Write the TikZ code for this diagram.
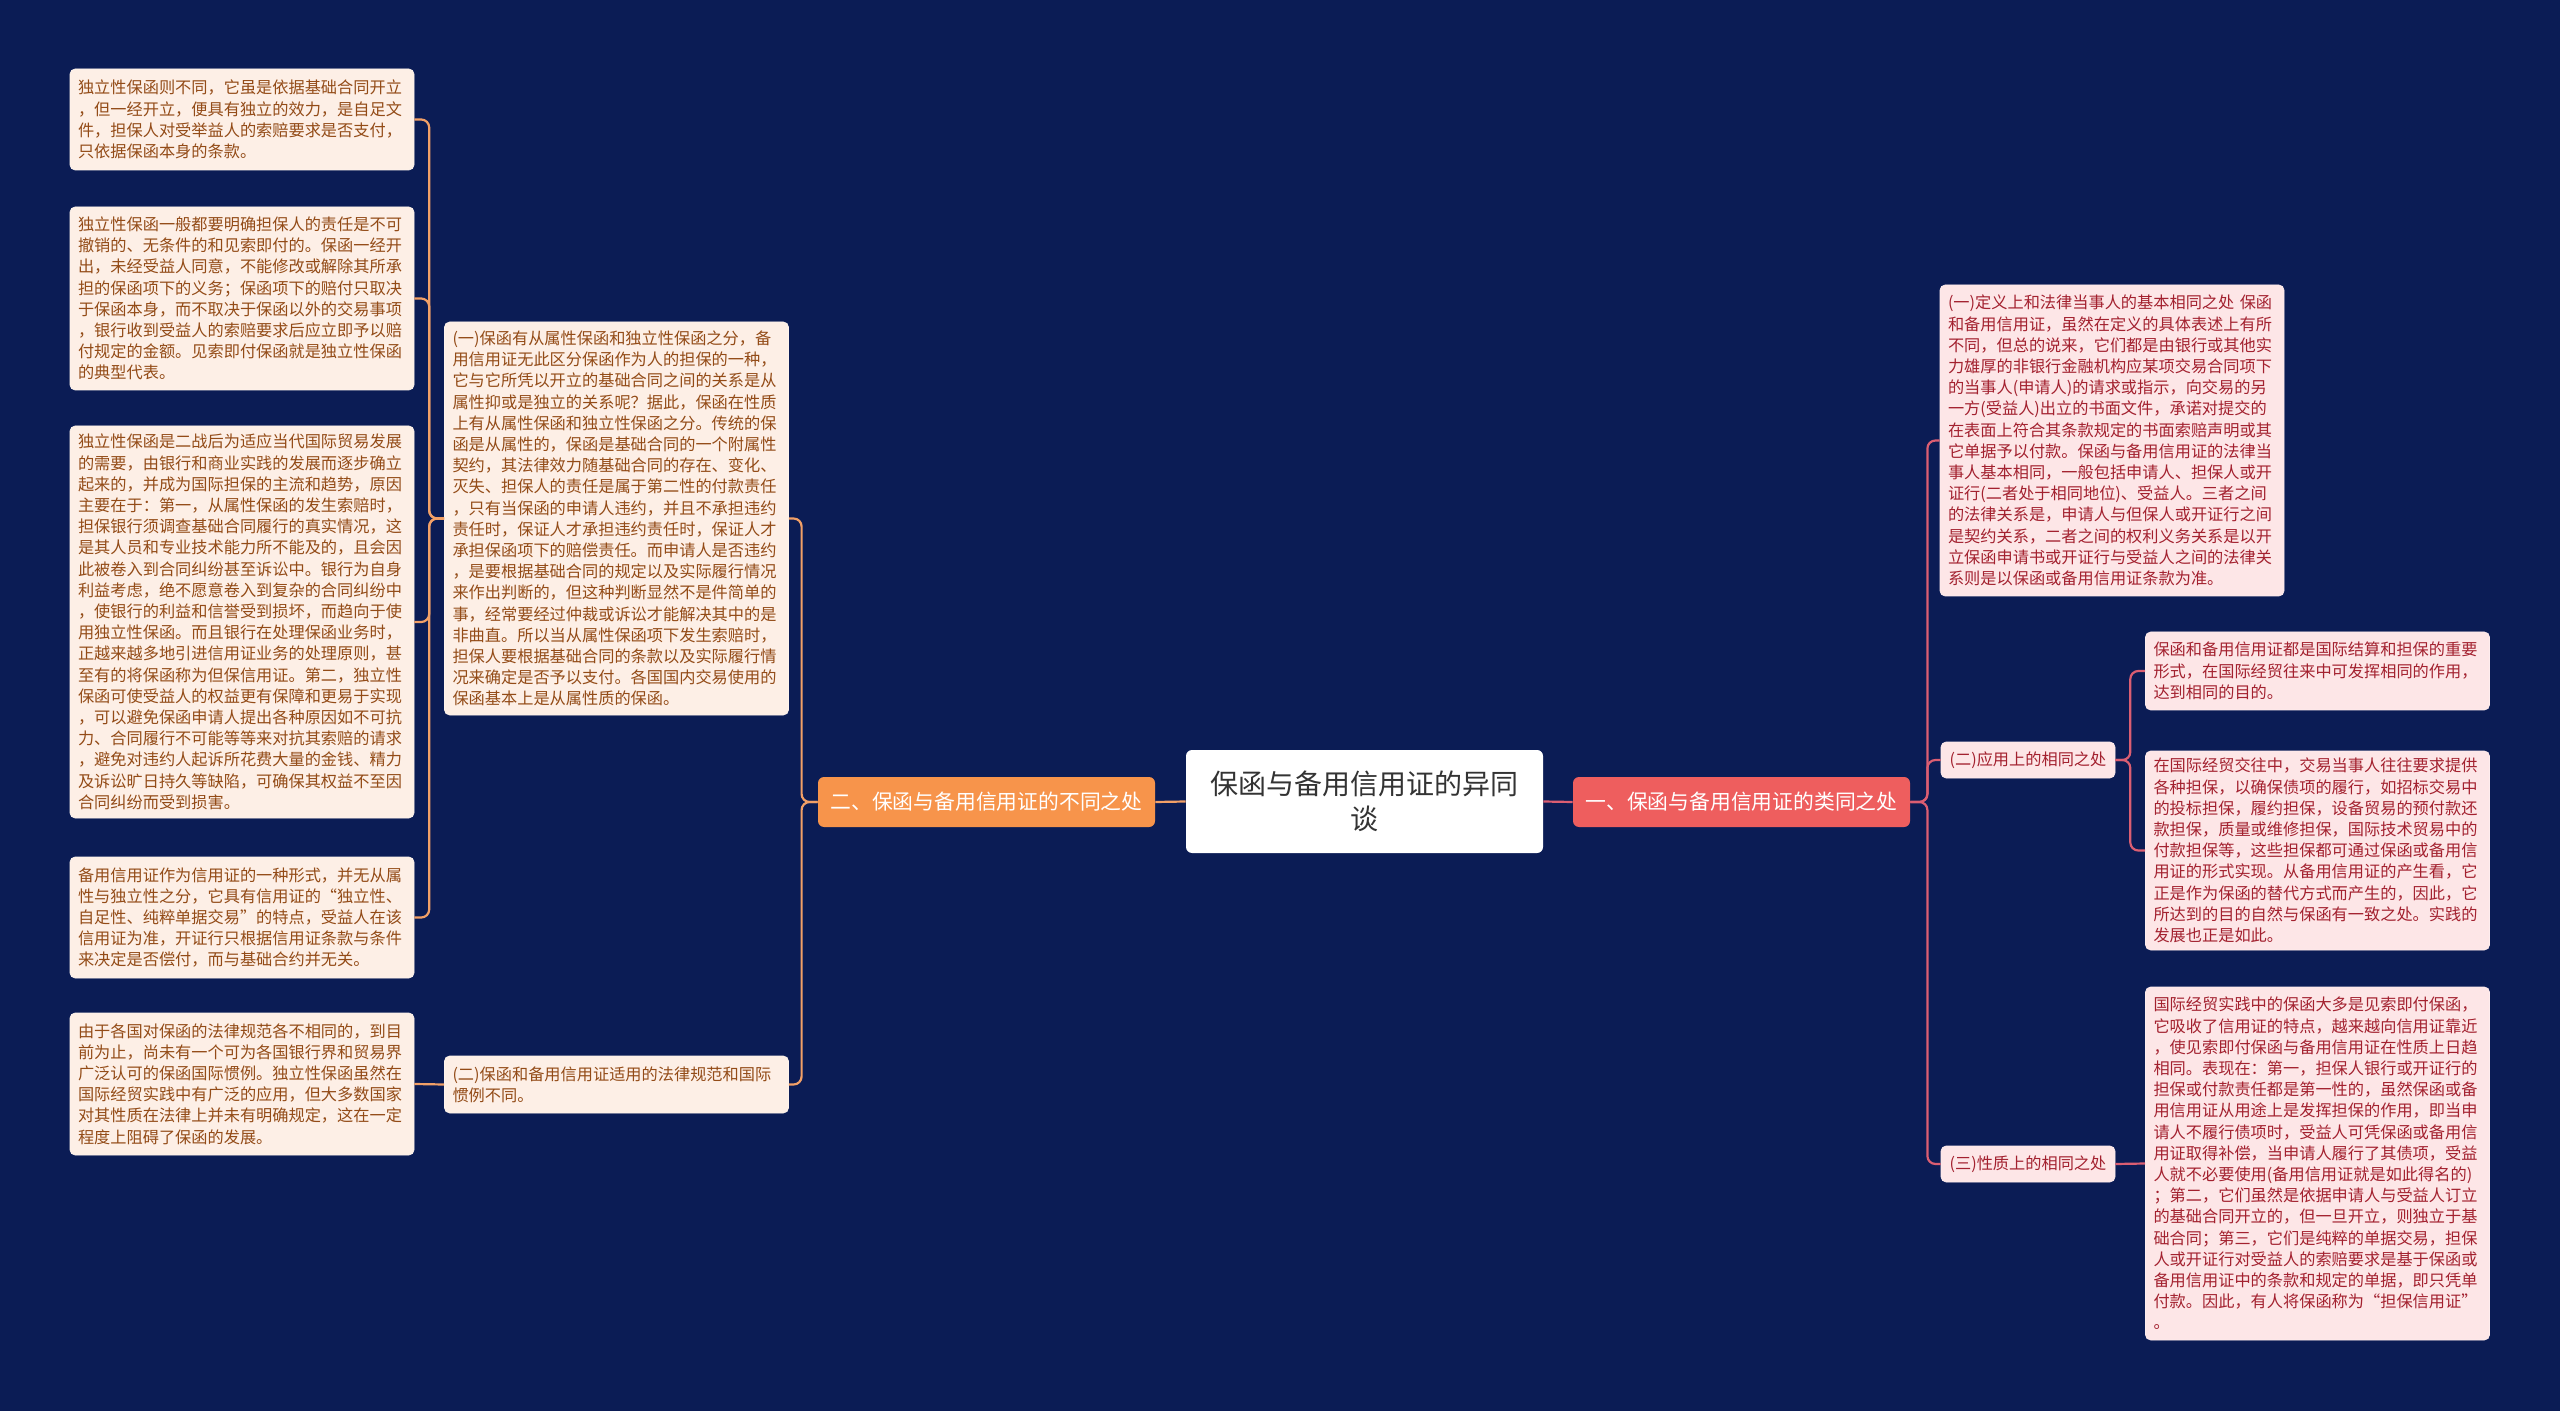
\documentclass[tikz,border=0pt]{standalone}
\usepackage{fontspec}
\newfontfamily\cjk{Noto Sans CJK SC}
\definecolor{bg}{HTML}{0B1C55}
\definecolor{lfill}{HTML}{FDEFE6}
\definecolor{ltext}{HTML}{934B17}
\definecolor{rfill}{HTML}{FDE6E7}
\definecolor{rtext}{HTML}{A3212F}
\definecolor{lline}{HTML}{F2A067}
\definecolor{rline}{HTML}{DB5E72}
\definecolor{lbfill}{HTML}{F7944B}
\definecolor{rbfill}{HTML}{EE5E5E}
\begin{document}
\begin{tikzpicture}[x=0.5pt,y=-0.5pt,
  txt/.style={inner sep=0pt, rounded corners=2.5pt, align=left,
    font={\cjk\fontsize{8.1pt}{10.6pt}\selectfont}},
  lbox/.style={txt, fill=lfill, text=ltext, draw=lfill!70!white, line width=0.3pt},
  rbox/.style={txt, fill=rfill, text=rtext, draw=rfill!70!white, line width=0.3pt},
  wide/.style={minimum width=172pt, text width=164pt},
  branch/.style={inner sep=0pt, rounded corners=3pt, text=white, minimum width=168.5pt, minimum height=25pt,
    font={\cjk\fontsize{10.4pt}{12pt}\selectfont}},
  lconn/.style={draw=lline, line width=1.1pt, rounded corners=4pt},
  rconn/.style={draw=rline, line width=1.1pt, rounded corners=4pt}]
\fill[bg] (0,0) rectangle (2560,1411);
\useasboundingbox (0,0) rectangle (2560,1411);

% centre and branches
\node[inner sep=0pt, rounded corners=3pt, fill=white, text=black!80, minimum width=178.5pt, minimum height=51.5pt,
  align=center, font={\cjk\fontsize{14pt}{17.5pt}\selectfont}] (C) at (1364.5,801.5) {保函与备用信用证的异同\\谈};
\node[branch, fill=lbfill] (LB) at (986.5,802) {二、保函与备用信用证的不同之处};
\node[branch, fill=rbfill] (RB) at (1741.5,802) {一、保函与备用信用证的类同之处};

% left side
\node[lbox, wide, minimum height=196.5pt] (M1) at (616.5,518.5) {(一)保函有从属性保函和独立性保函之分，备\\
用信用证无此区分保函作为人的担保的一种，\\
它与它所凭以开立的基础合同之间的关系是从\\
属性抑或是独立的关系呢？据此，保函在性质\\
上有从属性保函和独立性保函之分。传统的保\\
函是从属性的，保函是基础合同的一个附属性\\
契约，其法律效力随基础合同的存在、变化、\\
灭失、担保人的责任是属于第二性的付款责任\\
，只有当保函的申请人违约，并且不承担违约\\
责任时，保证人才承担违约责任时，保证人才\\
承担保函项下的赔偿责任。而申请人是否违约\\
，是要根据基础合同的规定以及实际履行情况\\
来作出判断的，但这种判断显然不是件简单的\\
事，经常要经过仲裁或诉讼才能解决其中的是\\
非曲直。所以当从属性保函项下发生索赔时，\\
担保人要根据基础合同的条款以及实际履行情\\
况来确定是否予以支付。各国国内交易使用的\\
保函基本上是从属性质的保函。};
\node[lbox, wide, minimum height=28.5pt] (M2) at (616.5,1084.5) {(二)保函和备用信用证适用的法律规范和国际\\
惯例不同。};

\node[lbox, wide, minimum height=50.5pt] (L1) at (242,119.5) {独立性保函则不同，它虽是依据基础合同开立\\
，但一经开立，便具有独立的效力，是自足文\\
件，担保人对受举益人的索赔要求是否支付，\\
只依据保函本身的条款。};
\node[lbox, wide, minimum height=91.5pt] (L2) at (242,298.5) {独立性保函一般都要明确担保人的责任是不可\\
撤销的、无条件的和见索即付的。保函一经开\\
出，未经受益人同意，不能修改或解除其所承\\
担的保函项下的义务；保函项下的赔付只取决\\
于保函本身，而不取决于保函以外的交易事项\\
，银行收到受益人的索赔要求后应立即予以赔\\
付规定的金额。见索即付保函就是独立性保函\\
的典型代表。};
\node[lbox, wide, minimum height=196pt] (L3) at (242,622) {独立性保函是二战后为适应当代国际贸易发展\\
的需要，由银行和商业实践的发展而逐步确立\\
起来的，并成为国际担保的主流和趋势，原因\\
主要在于：第一，从属性保函的发生索赔时，\\
担保银行须调查基础合同履行的真实情况，这\\
是其人员和专业技术能力所不能及的，且会因\\
此被卷入到合同纠纷甚至诉讼中。银行为自身\\
利益考虑，绝不愿意卷入到复杂的合同纠纷中\\
，使银行的利益和信誉受到损坏，而趋向于使\\
用独立性保函。而且银行在处理保函业务时，\\
正越来越多地引进信用证业务的处理原则，甚\\
至有的将保函称为但保信用证。第二，独立性\\
保函可使受益人的权益更有保障和更易于实现\\
，可以避免保函申请人提出各种原因如不可抗\\
力、合同履行不可能等等来对抗其索赔的请求\\
，避免对违约人起诉所花费大量的金钱、精力\\
及诉讼旷日持久等缺陷，可确保其权益不至因\\
合同纠纷而受到损害。};
\node[lbox, wide, minimum height=60.5pt] (L4) at (242,917.5) {备用信用证作为信用证的一种形式，并无从属\\
性与独立性之分，它具有信用证的“独立性、\\
自足性、纯粹单据交易”的特点，受益人在该\\
信用证为准，开证行只根据信用证条款与条件\\
来决定是否偿付，而与基础合约并无关。};
\node[lbox, wide, minimum height=71pt] (L5) at (242,1084) {由于各国对保函的法律规范各不相同的，到目\\
前为止，尚未有一个可为各国银行界和贸易界\\
广泛认可的保函国际惯例。独立性保函虽然在\\
国际经贸实践中有广泛的应用，但大多数国家\\
对其性质在法律上并未有明确规定，这在一定\\
程度上阻碍了保函的发展。};

% right side
\node[rbox, wide, minimum height=155.5pt] (RM1) at (2112,440.5) {(一)定义上和法律当事人的基本相同之处 保函\\
和备用信用证，虽然在定义的具体表述上有所\\
不同，但总的说来，它们都是由银行或其他实\\
力雄厚的非银行金融机构应某项交易合同项下\\
的当事人(申请人)的请求或指示，向交易的另\\
一方(受益人)出立的书面文件，承诺对提交的\\
在表面上符合其条款规定的书面索赔声明或其\\
它单据予以付款。保函与备用信用证的法律当\\
事人基本相同，一般包括申请人、担保人或开\\
证行(二者处于相同地位)、受益人。三者之间\\
的法律关系是，申请人与但保人或开证行之间\\
是契约关系，二者之间的权利义务关系是以开\\
立保函申请书或开证行与受益人之间的法律关\\
系则是以保函或备用信用证条款为准。};
\node[rbox, minimum width=87pt, minimum height=18pt] (RM2) at (2028,760) {(二)应用上的相同之处};
\node[rbox, minimum width=87pt, minimum height=18pt] (RM3) at (2028,1164) {(三)性质上的相同之处};

\node[rbox, wide, minimum height=39pt] (RL1) at (2317.5,671) {保函和备用信用证都是国际结算和担保的重要\\
形式，在国际经贸往来中可发挥相同的作用，\\
达到相同的目的。};
\node[rbox, wide, minimum height=99.5pt] (RL2) at (2317.5,850.5) {在国际经贸交往中，交易当事人往往要求提供\\
各种担保，以确保债项的履行，如招标交易中\\
的投标担保，履约担保，设备贸易的预付款还\\
款担保，质量或维修担保，国际技术贸易中的\\
付款担保等，这些担保都可通过保函或备用信\\
用证的形式实现。从备用信用证的产生看，它\\
正是作为保函的替代方式而产生的，因此，它\\
所达到的目的自然与保函有一致之处。实践的\\
发展也正是如此。};
\node[rbox, wide, minimum height=176.5pt] (RL3) at (2317.5,1163.5) {国际经贸实践中的保函大多是见索即付保函，\\
它吸收了信用证的特点，越来越向信用证靠近\\
，使见索即付保函与备用信用证在性质上日趋\\
相同。表现在：第一，担保人银行或开证行的\\
担保或付款责任都是第一性的，虽然保函或备\\
用信用证从用途上是发挥担保的作用，即当申\\
请人不履行债项时，受益人可凭保函或备用信\\
用证取得补偿，当申请人履行了其债项，受益\\
人就不必要使用(备用信用证就是如此得名的)\\
；第二，它们虽然是依据申请人与受益人订立\\
的基础合同开立的，但一旦开立，则独立于基\\
础合同；第三，它们是纯粹的单据交易，担保\\
人或开证行对受益人的索赔要求是基于保函或\\
备用信用证中的条款和规定的单据，即只凭单\\
付款。因此，有人将保函称为“担保信用证”\\
。};

% connectors
\begin{scope}[on background layer/.style={}]
\end{scope}
\path[lconn] (C.west) -- (LB.east);
\path[rconn] (C.east) -- (RB.west);
\path[lconn] (LB.west) -- ++(-16,0) |- (M1.east);
\path[lconn] (LB.west) -- ++(-16,0) |- (M2.east);
\path[lconn] (M1.west) -- ++(-15,0) |- (L1.east);
\path[lconn] (M1.west) -- ++(-15,0) |- (L2.east);
\path[lconn] (M1.west) -- ++(-15,0) |- (L3.east);
\path[lconn] (M1.west) -- ++(-15,0) |- (L4.east);
\path[lconn] (M2.west) -- (L5.east);
\path[rconn] (RB.east) -- ++(17,0) |- (RM1.west);
\path[rconn] (RB.east) -- ++(17,0) |- (RM2.west);
\path[rconn] (RB.east) -- ++(17,0) |- (RM3.west);
\path[rconn] (RM2.east) -- ++(15,0) |- (RL1.west);
\path[rconn] (RM2.east) -- ++(15,0) |- (RL2.west);
\path[rconn] (RM3.east) -- (RL3.west);
\end{tikzpicture}
\end{document}
